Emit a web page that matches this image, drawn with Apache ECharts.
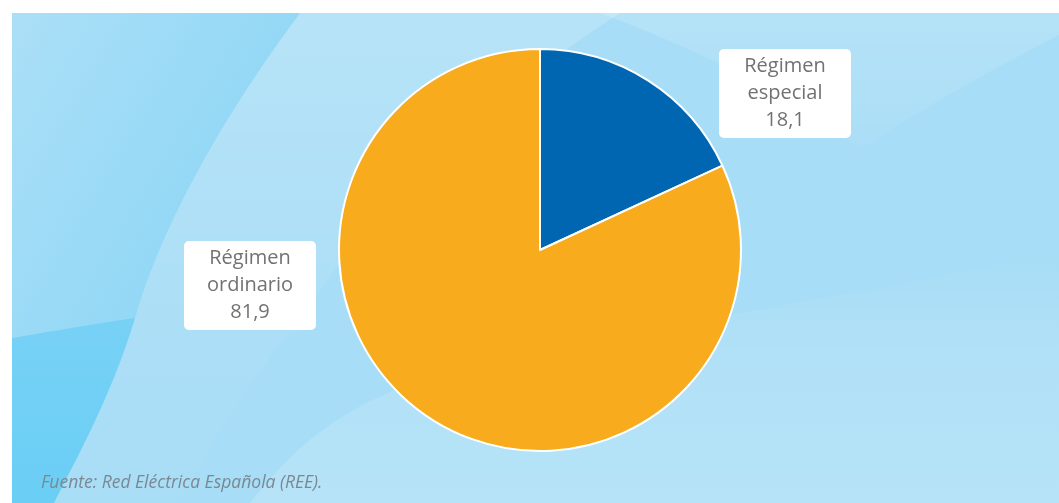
<!DOCTYPE html>
<html>
<head>
<meta charset="utf-8">
<script src="https://cdn.jsdelivr.net/npm/echarts@6/dist/echarts.min.js"></script>
<style>
html,body{margin:0;padding:0;background:#ffffff;}
#chart{width:1059px;height:503px;}
</style>
</head>
<body>
<div id="chart"></div>
<script>
// Data
const categories = ['Régimen especial', 'Régimen ordinario'];
const labelLines = [['Régimen', 'especial'], ['Régimen', 'ordinario']];
const values = [18.1, 81.9];
const valueLabels = ['18,1', '81,9'];
const sliceColors = ['#0066b2', '#f7ab1d'];
const sourceText = 'Fuente: Red Eléctrica Española (REE).';

const chart = echarts.init(document.getElementById('chart'), null, {renderer: 'canvas'});

const labelPos = [
  {x: 785, y: 93},
  {x: 250, y: 285}
];

// decorative background helper: build polygon points from a list of segments
// each segment: ['L', x, y] or ['C', x1, y1, x2, y2, x, y]
function shapePoints(start, segs) {
  const pts = [start.slice()];
  let cur = start.slice();
  segs.forEach(function (s) {
    if (s[0] === 'L') {
      cur = [s[1], s[2]];
      pts.push(cur);
    } else {
      const p0 = cur, p1 = [s[1], s[2]], p2 = [s[3], s[4]], p3 = [s[5], s[6]];
      for (let i = 1; i <= 24; i++) {
        const t = i / 24, u = 1 - t;
        pts.push([
          u * u * u * p0[0] + 3 * u * u * t * p1[0] + 3 * u * t * t * p2[0] + t * t * t * p3[0],
          u * u * u * p0[1] + 3 * u * u * t * p1[1] + 3 * u * t * t * p2[1] + t * t * t * p3[1]
        ]);
      }
      cur = p3;
    }
  });
  return pts;
}

const bg = [
  {type: 'rect', shape: {x: 12, y: 13, width: 1047, height: 490}, style: {fill: '#a7ddf6'}},
  // lighter lower-right area
  {type: 'polygon', shape: {points: shapePoints([250, 503], [['C', 300, 440, 340, 410, 420, 380], ['C', 600, 330, 850, 300, 1059, 250], ['L', 1059, 503]])},
   style: {fill: {type: 'linear', x: 0, y: 0, x2: 0, y2: 1, colorStops: [{offset: 0, color: 'rgba(255,255,255,0)'}, {offset: 0.45, color: 'rgba(255,255,255,0.12)'}, {offset: 1, color: 'rgba(255,255,255,0.17)'}]}}},
  // top-right streak
  {type: 'polygon', shape: {points: shapePoints([600, 13], [['L', 1059, 13], ['L', 1059, 35], ['C', 990, 70, 920, 110, 860, 150], ['C', 800, 100, 700, 50, 600, 13]])},
   style: {fill: {type: 'linear', x: 0, y: 0, x2: 0, y2: 1, colorStops: [{offset: 0, color: 'rgba(255,255,255,0.16)'}, {offset: 1, color: 'rgba(255,255,255,0.04)'}]}}},
  // light band right of the curve
  {type: 'polygon', shape: {points: shapePoints([300, 13], [['L', 620, 13], ['C', 500, 90, 390, 190, 320, 290], ['C', 260, 370, 210, 440, 180, 503], ['L', 54, 503], ['C', 75, 460, 110, 400, 135, 318], ['C', 160, 230, 220, 120, 300, 13]])},
   style: {fill: {type: 'linear', x: 0, y: 0, x2: 0, y2: 1, colorStops: [{offset: 0, color: 'rgba(255,255,255,0.18)'}, {offset: 0.6, color: 'rgba(255,255,255,0.06)'}, {offset: 1, color: 'rgba(255,255,255,0.02)'}]}}},
  // darker left band
  {type: 'polygon', shape: {points: shapePoints([12, 13], [['L', 300, 13], ['C', 220, 120, 160, 230, 135, 318], ['C', 110, 400, 75, 460, 54, 503], ['L', 12, 503]])},
   style: {fill: {type: 'linear', x: 0, y: 0, x2: 1, y2: 0.35, colorStops: [{offset: 0, color: '#abdff7'}, {offset: 1, color: '#8cd6f5'}]}}},
  // bottom-left dark patch
  {type: 'polygon', shape: {points: shapePoints([12, 338], [['C', 60, 330, 105, 322, 135, 318], ['C', 110, 400, 75, 460, 54, 503], ['L', 12, 503]])},
   style: {fill: {type: 'linear', x: 0, y: 0, x2: 0, y2: 1, colorStops: [{offset: 0, color: '#78d1f5'}, {offset: 1, color: '#6acef5'}]}}},
  {type: 'text', x: 41, y: 483, z: 10,
   style: {text: sourceText, fill: '#7b8892', font: 'italic 17.5px "Open Sans"', verticalAlign: 'middle'}}
];

chart.setOption({
  animation: false,
  backgroundColor: '#ffffff',
  graphic: {elements: bg},
  series: [{
    type: 'pie',
    center: [540, 250],
    radius: [0, 201],
    startAngle: 90,
    clockwise: true,
    avoidLabelOverlap: false,
    itemStyle: {borderColor: '#ffffff', borderWidth: 2},
    label: {
      show: true,
      position: 'inside',
      formatter: function (p) {
        return labelLines[p.dataIndex].join('\n') + '\n' + valueLabels[p.dataIndex];
      },
      color: '#727272',
      fontFamily: 'Open Sans',
      fontSize: 20,
      lineHeight: 27,
      align: 'center',
      backgroundColor: '#ffffff',
      borderRadius: 5,
      width: 122,
      padding: [8, 5, 0, 5]
    },
    labelLine: {show: false},
    labelLayout: function (params) {
      const p = labelPos[params.dataIndex];
      return {x: p.x, y: p.y + 0.5, align: 'center', verticalAlign: 'middle'};
    },
    emphasis: {disabled: true},
    data: categories.map(function (c, i) {
      return {name: c, value: values[i], itemStyle: {color: sliceColors[i]}};
    })
  }]
});
</script>
</body>
</html>
